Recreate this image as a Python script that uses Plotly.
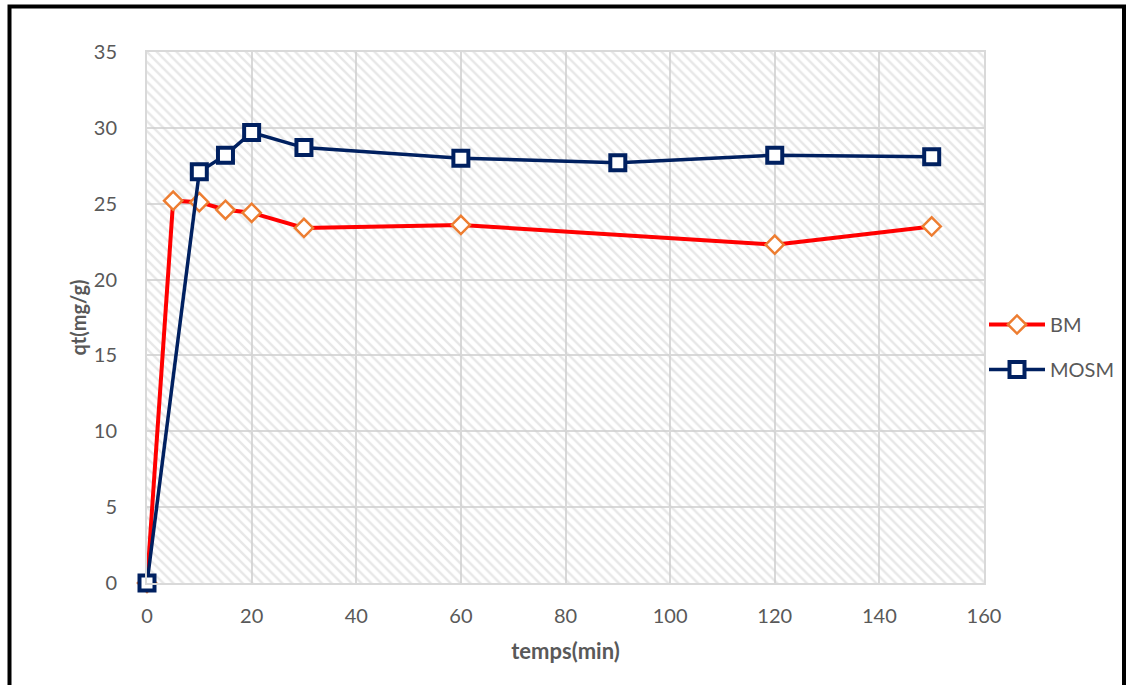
import plotly.graph_objects as go

time_bm = [0, 5, 10, 15, 20, 30, 60, 120, 150]
qt_bm = [0, 25.2, 25.1, 24.6, 24.4, 23.4, 23.6, 22.3, 23.5]
time_mosm = [0, 10, 15, 20, 30, 60, 90, 120, 150]
qt_mosm = [0, 27.1, 28.2, 29.7, 28.7, 28.0, 27.7, 28.2, 28.1]

W, H = 1127, 685
L, R, T, B = 147, 143, 52, 102
pw, ph = W - L - R, H - T - B

def px(x):
    return (x - L) / pw

def py(y):
    return (H - B - y) / ph

fig = go.Figure()

# hatched plot background
fig.add_trace(go.Scatter(
    x=[0, 160, 160, 0, 0], y=[0, 0, 35, 35, 0], mode="lines",
    fill="toself", line=dict(width=0), fillcolor="rgba(0,0,0,0)",
    fillpattern=dict(shape="\\", fgcolor="#d0d0d0", bgcolor="rgba(0,0,0,0)",
                     size=7, solidity=0.35),
    hoverinfo="skip", showlegend=False))

fig.add_trace(go.Scatter(
    x=time_bm, y=qt_bm, name="BM", mode="lines+markers",
    line=dict(color="#FF0000", width=4),
    marker=dict(symbol="diamond", size=14, color="white",
                line=dict(color="#ED7D31", width=2.5)),
    cliponaxis=False, legendgroup="a"))
fig.add_trace(go.Scatter(
    x=time_mosm, y=qt_mosm, name="MOSM", mode="lines+markers",
    line=dict(color="#002060", width=3.5),
    marker=dict(symbol="square", size=15, color="white",
                line=dict(color="#002060", width=4)),
    cliponaxis=False, legendgroup="b"))

font_fam = "Lato, 'Open Sans', sans-serif"
fig.update_layout(
    width=W, height=H,
    margin=dict(l=L, r=R, t=T, b=B, autoexpand=False),
    paper_bgcolor="white", plot_bgcolor="white",
    font=dict(family=font_fam, color="#595959", size=20),
    xaxis=dict(range=[0, 160], dtick=20, tick0=0,
               showgrid=True, gridcolor="#d9d9d9", gridwidth=2,
               zeroline=False, showline=True, linecolor="#d9d9d9", linewidth=2, mirror=True,
               ticks="", ticklabelstandoff=14,
               title=dict(text="<b>temps(min)</b>", font=dict(size=22, color="#595959"), standoff=18)),
    yaxis=dict(range=[0, 35], dtick=5, tick0=0,
               showgrid=True, gridcolor="#d9d9d9", gridwidth=2,
               zeroline=False, showline=True, linecolor="#d9d9d9", linewidth=2, mirror=True,
               ticks="", ticklabelstandoff=24,
               title=dict(text="<b>qt(mg/g)</b>", font=dict(size=20, color="#595959"), standoff=2)),
    legend=dict(x=1.0, xanchor="left", y=py(347), yanchor="middle",
                bgcolor="rgba(0,0,0,0)", font=dict(size=20, color="#595959"),
                tracegroupgap=16, itemwidth=56),
    shapes=[dict(type="rect", xref="paper", yref="paper",
                 x0=px(9.5), x1=px(1124), y0=py(720), y1=py(6.5),
                 line=dict(color="black", width=4), layer="below")],
)

fig.write_html("out.html")
